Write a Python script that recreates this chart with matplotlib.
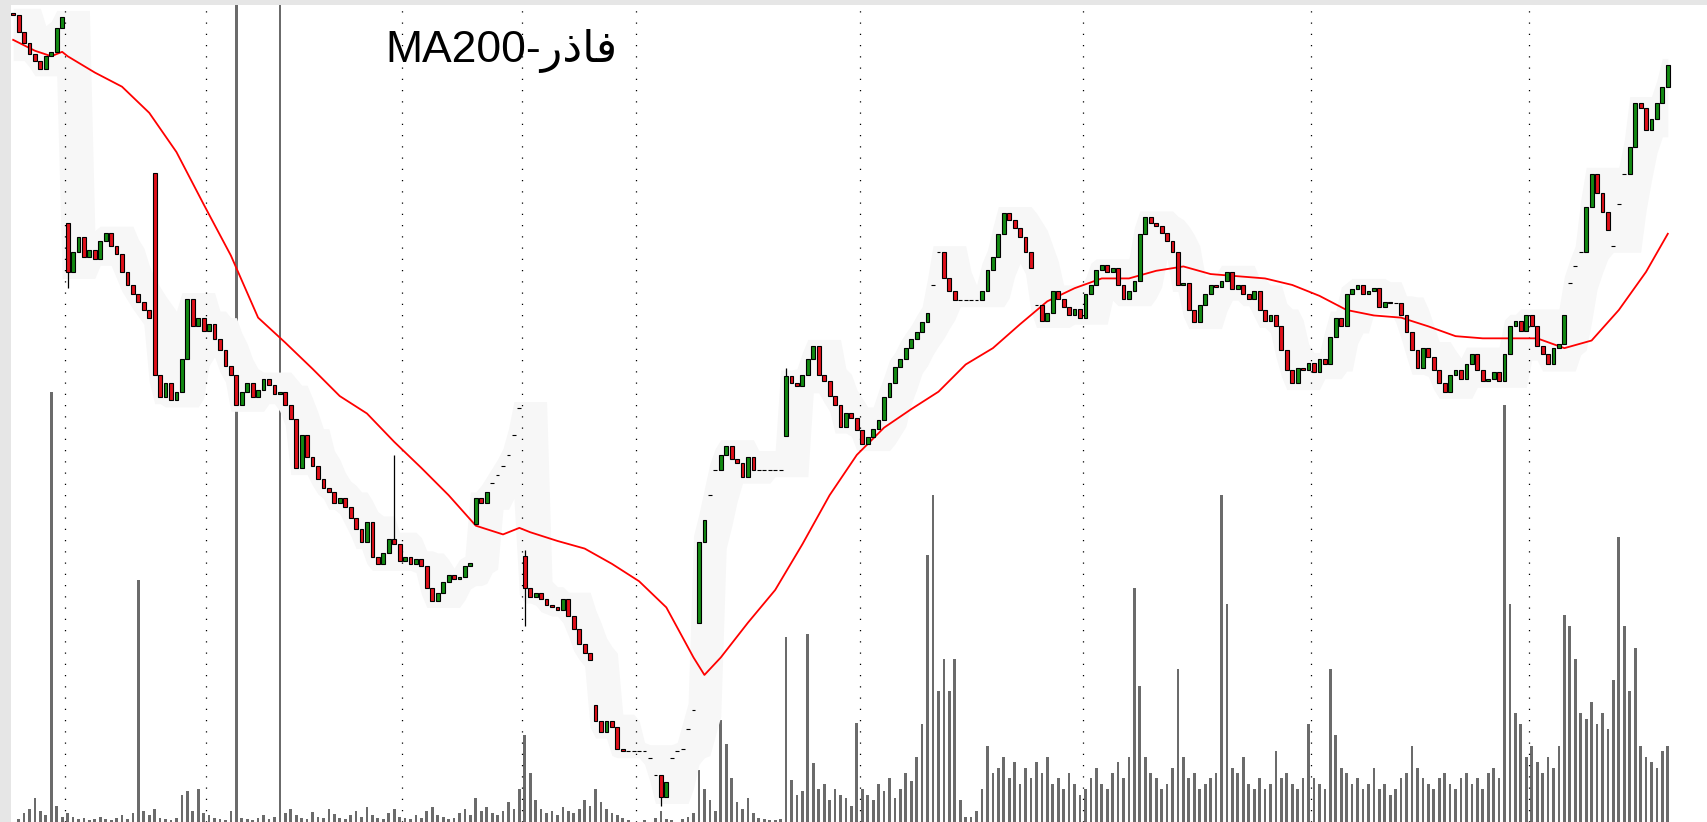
import numpy as np
import pandas as pd
import matplotlib.pyplot as plt

# daily closes (one value per session)
close = [
    746, 730, 720, 710, 704, 696, 708, 712, 734, 744,
    510, 528, 542, 524, 530, 522, 538, 546, 534, 526,
    510, 498, 490, 482, 475, 468, 415, 395, 408, 392,
    400, 430, 485, 460, 468, 456, 462, 448, 438, 424,
    415, 388, 400, 408, 395, 402, 412, 406, 398, 400,
    388, 375, 330, 360, 340, 332, 320, 312, 308, 298,
    302, 294, 284, 274, 262, 280, 248, 242, 252, 265,
    260, 245, 248, 242, 246, 240, 220, 208, 215, 225,
    232, 228, 230, 240, 243, 302, 298, 308, 316, 324,
    332, 342, 360, 385, 220, 212, 215, 210, 204, 202,
    200, 210, 194, 182, 168, 160, 154, 98, 88, 98,
    92, 72, 70, 70, 70, 70, 70, 64, 48, 28,
    42, 64, 70, 72, 90, 108, 262, 282, 305, 328,
    342, 350, 338, 335, 322, 340, 328, 328, 328, 328,
    328, 328, 414, 408, 405, 415, 430, 442, 415, 410,
    396, 388, 368, 380, 376, 365, 352, 358, 366, 374,
    395, 408, 423, 430, 440, 448, 455, 464, 472, 498,
    528, 504, 492, 484, 484, 484, 484, 484, 492, 512,
    524, 545, 564, 558, 550, 542, 528, 514, 480, 465,
    472, 492, 485, 478, 470, 476, 468, 490, 498, 512,
    516, 510, 514, 498, 485, 492, 502, 545, 560, 555,
    552, 546, 538, 528, 498, 500, 475, 464, 480, 490,
    498, 496, 502, 510, 494, 498, 490, 485, 492, 475,
    465, 470, 460, 438, 420, 408, 422, 420, 426, 418,
    430, 425, 450, 468, 460, 490, 494, 498, 490, 492,
    495, 478, 482, 481, 481, 470, 455, 438, 422, 440,
    432, 420, 408, 400, 415, 420, 412, 425, 435, 420,
    410, 412, 418, 410, 435, 460, 465, 456, 470, 460,
    442, 435, 425, 440, 444, 470, 500, 515, 528, 570,
    600, 582, 565, 548, 534, 572, 600, 625, 665, 660,
    640, 650, 665, 680, 700,
]

# sessions that opened away from the previous close
open_gaps = {0: 748, 10: 555, 26: 601, 85: 279, 94: 249, 107: 112, 126: 188, 142: 359}

# single-price sessions (open == close)
one_price = [88, 89, 90, 91, 92, 93, 117, 118, 121, 122, 123, 124, 125, 128, 129,
             169, 170, 188, 286, 287, 288, 294, 295, 296]

# notable shadows: index -> (high, low)
shadows = {10: (555, 495), 70: (342, 260), 94: (255, 185), 119: (28, 20), 142: (422, 359)}

volume = [
    0, 3, 8, 12, 22, 10, 6, 395, 15, 5,
    8, 5, 3, 4, 2, 3, 5, 3, 2, 4,
    6, 3, 8, 222, 10, 6, 12, 4, 3, 2,
    4, 25, 28, 10, 30, 8, 6, 4, 3, 2,
    10, 800, 4, 3, 2, 4, 6, 3, 5, 800,
    8, 12, 6, 4, 3, 9, 5, 4, 12, 7,
    4, 3, 6, 10, 5, 14, 6, 4, 3, 8,
    12, 5, 4, 3, 6, 4, 10, 14, 6, 5,
    3, 4, 8, 12, 6, 22, 10, 14, 8, 6,
    10, 18, 12, 30, 80, 45, 20, 12, 8, 10,
    6, 14, 10, 8, 12, 20, 15, 30, 18, 12,
    8, 6, 4, 2, 0, 0, 2, 0, 4, 10,
    3, 2, 0, 3, 5, 8, 48, 30, 20, 10,
    94, 72, 40, 18, 12, 22, 8, 4, 3, 2,
    2, 3, 170, 39, 25, 28, 173, 54, 30, 35,
    20, 30, 25, 22, 15, 91, 30, 25, 20, 35,
    28, 40, 22, 30, 45, 38, 60, 90, 245, 300,
    120, 150, 120, 150, 20, 5, 5, 10, 30, 70,
    45, 50, 60, 40, 55, 35, 50, 40, 55, 45,
    60, 35, 40, 30, 45, 35, 25, 30, 40, 50,
    35, 30, 45, 55, 40, 60, 215, 125, 60, 45,
    40, 30, 35, 50, 140, 60, 40, 45, 30, 35,
    40, 45, 300, 200, 50, 45, 60, 35, 30, 40,
    30, 35, 65, 40, 45, 35, 30, 40, 90, 40,
    35, 30, 140, 80, 50, 45, 35, 40, 30, 35,
    50, 30, 35, 25, 30, 40, 45, 70, 50, 40,
    35, 30, 40, 45, 35, 30, 40, 45, 35, 40,
    30, 45, 50, 40, 383, 200, 100, 90, 60, 70,
    55, 45, 60, 50, 70, 190, 180, 150, 100, 95,
    110, 90, 100, 85, 130, 262, 180, 120, 160, 70,
    60, 55, 50, 65, 70,
]

# 200-day moving average, sampled
ma_idx = [0, 4, 7, 9, 10, 15, 20, 25, 30, 35, 40, 45, 50, 55, 60, 65, 70, 75, 80, 85,
          90, 93, 95, 100, 105, 110, 115, 120, 125, 127, 130, 135, 140, 145, 150, 155,
          160, 165, 170, 175, 180, 185, 190, 195, 200, 205, 210, 215, 220, 225, 230,
          235, 240, 245, 250, 255, 260, 265, 270, 275, 280, 285, 290, 295, 300, 304]
ma_val = [723, 713, 708, 712, 708, 693, 680, 656, 620, 572, 525, 468, 445, 421, 396,
          380, 354, 330, 305, 277, 269, 275, 271, 263, 256, 242, 226, 202, 156, 140,
          156, 188, 218, 260, 305, 342, 367, 384, 400, 425, 440, 462, 483, 495, 504,
          504, 511, 515, 508, 506, 504, 498, 488, 475, 470, 468, 460, 451, 449, 449,
          449, 440, 447, 475, 510, 545]

# first session of each period
period_starts = [10, 36, 72, 94, 115, 156, 197, 239, 279]

title = "MA200-" + "\u0631\u0630\ufe8e\ufed3"

# ---- build OHLC ----
close = np.array(close, dtype=float)
n = len(close)
x = np.arange(n)
opens = np.r_[close[0], close[:-1]]
for k, v in open_gaps.items():
    opens[k] = v
for k in one_price:
    opens[k] = close[k]

up = close > opens
body_lo = np.minimum(opens, close)
body_h = np.abs(close - opens)
colors = np.where(up, "#138a13", "#e0101a")

# ---- figure ----
fig = plt.figure(figsize=(17.07, 8.22), dpi=100)
fig.patch.set_facecolor("#e6e6e6")
rect = [11 / 1707, 0.0, 1 - 11 / 1707, 1 - 5 / 822]

axv = fig.add_axes(rect)
axv.set_facecolor("white")
axv.bar(x, volume, width=0.5, color="#6b6b6b", linewidth=0)
axv.set_ylim(0, 750)

ax = fig.add_axes(rect)
ax.patch.set_visible(False)

# faint envelope around price
s = pd.Series(close)
env_hi = s.rolling(7, center=True, min_periods=1).max().shift(2).bfill()
env_lo = s.rolling(7, center=True, min_periods=1).min().shift(2).bfill()
ax.fill_between(x, env_lo - 6, env_hi + 6, color="#f7f7f7", lw=0, zorder=0)

for k in period_starts:
    ax.axvline(k - 0.5, color="black", lw=0.9, ls=(0, (1, 8)), zorder=1)

ax.plot(ma_idx, ma_val, color="#ff0000", lw=1.3, zorder=2)

for k, (hi, lo) in shadows.items():
    ax.vlines(k, lo, hi, color="black", lw=0.9, zorder=3)
ax.bar(x, body_h, bottom=body_lo, width=0.7, color=colors,
       edgecolor="black", linewidth=0.8, zorder=4)

ax.set_xlim(-0.4, 311.2)
ax.set_ylim(5, 755)
axv.set_xlim(-0.4, 311.2)
for a in (ax, axv):
    a.set_xticks([])
    a.set_yticks([])
    for sp in a.spines.values():
        sp.set_visible(False)

ax.text(0.221, 0.944, title, transform=ax.transAxes, ha="left", va="center",
        fontsize=32, family=["Liberation Sans", "DejaVu Sans"], zorder=5)

fig.savefig("out.png", dpi=100, facecolor=fig.get_facecolor())
